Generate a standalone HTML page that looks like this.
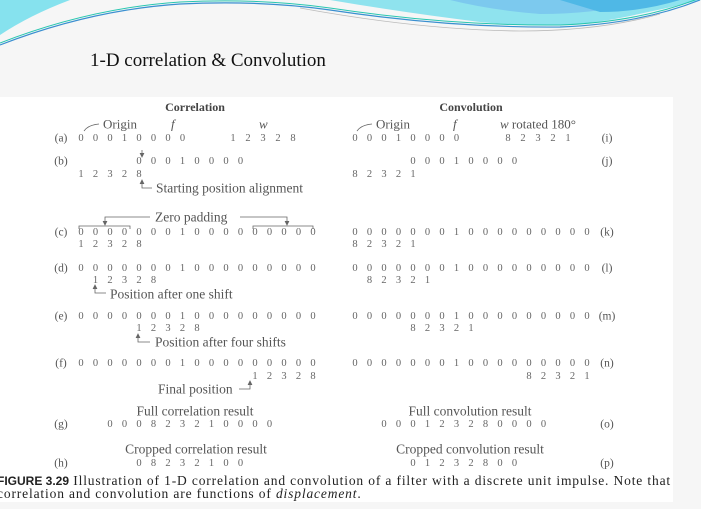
<!DOCTYPE html>
<html><head><meta charset="utf-8">
<style>
html,body{margin:0;padding:0}
body{width:701px;height:509px;position:relative;overflow:hidden;background:#f6f6f6;font-family:"Liberation Serif",serif}
.t{position:absolute;white-space:nowrap;font-size:10.5px;color:#666;transform:translate(-50%,-50%);line-height:1}
.r{position:absolute;white-space:nowrap;font-size:11.5px;color:#555;transform:translate(-50%,-50%);line-height:1}
.l{position:absolute;white-space:nowrap;font-size:13px;color:#555;line-height:1;transform:translateY(-50%)}
.h{position:absolute;white-space:nowrap;font-size:12px;font-weight:bold;color:#444;transform:translate(-50%,-50%);line-height:1}
.c{position:absolute;white-space:nowrap;font-size:13.5px;color:#555;transform:translate(-50%,-50%);line-height:1}
#fig{position:absolute;left:0;top:97px;width:673px;height:405px;background:#fff}
</style></head>
<body>
<svg width="701" height="60" style="position:absolute;left:0;top:0">
  <path d="M0,0 L70,0 Q30,15 0,35 Z" fill="#86e2ee"/>
  <path d="M330,0 L701,0 L701,0 Q660,10 620,18 Q560,30 480,22 Q400,12 330,0 Z" fill="#8fe3ee"/>
  <path d="M450,0 L650,0 Q600,14 540,14 Q490,10 450,0 Z" fill="#7cc9ee"/>
  <path d="M560,0 L680,0 Q640,12 600,12 Z" fill="#4fb8e6"/>
  <path d="M0,45 Q90,10 180,4 Q260,0 330,10 Q450,28 560,27 Q640,24 700,0" fill="none" stroke="#3a8fd0" stroke-width="1.2"/>
  <path d="M0,43 Q90,8 180,2 Q260,-2 330,8 Q450,26 560,25 Q640,22 700,-2" fill="none" stroke="#28c6b0" stroke-width="1"/>
  <path d="M300,8 Q420,30 520,31 Q600,31 660,14" fill="none" stroke="#bbb" stroke-width="0.8"/>
</svg>
<div style="position:absolute;left:90px;top:50px;font-size:19px;color:#111;white-space:nowrap">1-D correlation &amp; Convolution</div>
<div id="fig"></div>
<div class="h" style="left:195px;top:107px">Correlation</div>
<div class="h" style="left:471px;top:107px">Convolution</div>

<svg width="701" height="509" style="position:absolute;left:0;top:0" stroke="#666" fill="none" stroke-width="0.8">
  <path d="M84,131 Q88,125 99,124"/><path d="M357,131 Q361,125 372,124"/>
  <path d="M142,150 L142,156"/><path d="M140,153 L142,157 L144,153" fill="#666"/>
  <path d="M142,181 L142,188 L152,188"/><path d="M140,184 L142,180 L144,184" fill="#666"/>
  <path d="M105,224 L105,217 L150,217"/><path d="M103,221 L105,225 L107,221" fill="#666"/>
  <path d="M240,217 L287,217 L287,224"/><path d="M285,221 L287,225 L289,221" fill="#666"/>
  <path d="M79,229 L79,226 L130,226 L130,229"/><path d="M253,229 L253,226 L313,226 L313,229"/>
  <path d="M95,286 L95,293 L106,293"/><path d="M93,289 L95,285 L97,289" fill="#666"/>
  <path d="M138,335 L138,342 L150,342"/><path d="M136,338 L138,334 L140,338" fill="#666"/>
  <path d="M239,389 L250,389 L250,381"/><path d="M248,385 L250,381 L252,385" fill="#666"/>
</svg>

<div class="l" style="left:103px;top:124px">Origin</div>
<div class="l" style="left:171px;top:124px;font-style:italic">f</div>
<div class="l" style="left:259px;top:124px;font-style:italic">w</div>
<div class="l" style="left:376px;top:124px">Origin</div>
<div class="l" style="left:453px;top:124px;font-style:italic">f</div>
<div class="l" style="left:500px;top:124px"><i>w</i> rotated 180°</div>
<div class="l" style="left:156px;top:188px;font-size:13.5px">Starting position alignment</div>
<div class="l" style="left:155px;top:217px;font-size:13.5px">Zero padding</div>
<div class="l" style="left:110px;top:294px;font-size:13.5px">Position after one shift</div>
<div class="l" style="left:155px;top:342px;font-size:13.5px">Position after four shifts</div>
<div class="l" style="left:158px;top:389px;font-size:13.5px">Final position</div>
<div class="c" style="left:195px;top:411px">Full correlation result</div>
<div class="c" style="left:196px;top:449px">Cropped correlation result</div>
<div class="c" style="left:470px;top:411px">Full convolution result</div>
<div class="c" style="left:470px;top:449px">Cropped convolution result</div>

<div style="position:absolute;left:-3px;top:475px;font-size:13.5px;letter-spacing:0.85px;color:#222;line-height:12.5px;white-space:nowrap"><b style="font-family:'Liberation Sans',sans-serif;font-size:12px;letter-spacing:0">FIGURE 3.29</b> Illustration of 1-D correlation and convolution of a filter with a discrete unit impulse. Note that<br>correlation and convolution are functions of <i>displacement</i>.</div>

<script>
const S = 14.5;
const L0 = 81, R0 = 355;
const rowLabels = ["(a)","(b)","(c)","(d)","(e)","(f)","(g)","(h)","(i)","(j)","(k)","(l)","(m)","(n)","(o)","(p)"];
const labelY = [139,162,233,269,317,364,425,464,139,162,233,269,317,364,425,464];
const rowSides = ["L","L","L","L","L","L","L","L","R","R","R","R","R","R","R","R"];
const seqDigits = ["00010000","00010000","00000001000000000","00000001000000000","00000001000000000","00000001000000000","000823210000","08232100",
                   "00010000","00010000","00000001000000000","00000001000000000","00000001000000000","00000001000000000","000123280000","01232800"];
const seqCols = [0,4,0,0,0,0,2,4, 0,4,0,0,0,0,2,4];
const filterDigits = ["12328","12328","12328","12328","12328","12328","82321","82321","82321","82321","82321","82321"];
const filterCols = [10.6,0,0,1,4,12, 10.6,0,0,1,4,12];
const filterY = [139,175,245,281,329,377, 139,175,245,281,329,377];
const filterSides = ["L","L","L","L","L","L","R","R","R","R","R","R"];

function put(txt, x, y, name, cls){
  const d = document.createElement('div');
  d.className = cls || 't';
  d.textContent = txt;
  d.style.left = x + 'px';
  d.style.top = y + 'px';
  
  
  document.body.appendChild(d);
}
for (let i = 0; i < rowLabels.length; i++) {
  const x0 = rowSides[i] === "L" ? L0 : R0;
  const s = seqDigits[i];
  for (let k = 0; k < s.length; k++) {
    put(s[k], x0 + (seqCols[i] + k) * S, labelY[i], 'signal-digit');
  }
  const lx = rowSides[i] === "L" ? 61 : 607;
  put(rowLabels[i], lx, labelY[i], 'row-label', 'r');
}
for (let i = 0; i < filterDigits.length; i++) {
  const x0 = filterSides[i] === "L" ? L0 : R0;
  const s = filterDigits[i];
  const wide = filterCols[i] > 10 && filterCols[i] < 11;
  const sp = wide ? 15 : S;
  const base = wide ? (filterSides[i] === "L" ? 233 : 508) : x0 + filterCols[i] * S;
  for (let k = 0; k < s.length; k++) {
    put(s[k], base + k * sp, filterY[i], 'filter-digit');
  }
}
</script>
</body></html>
